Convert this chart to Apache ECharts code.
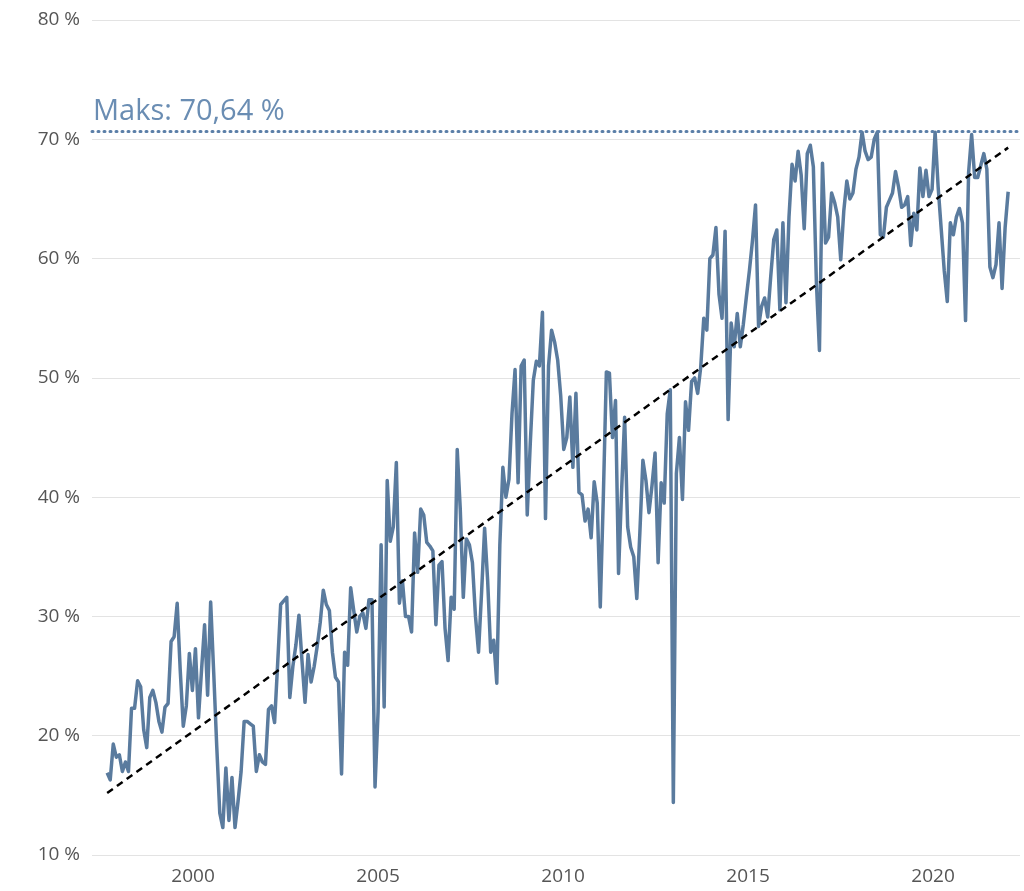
<!DOCTYPE html>
<html>
<head>
<meta charset="utf-8">
<script src="https://cdn.jsdelivr.net/npm/echarts@6/dist/echarts.min.js"></script>
<style>
  html, body { margin: 0; padding: 0; background: #fff; }
  #chart { width: 1024px; height: 891px; }
</style>
</head>
<body>
<div id="chart"></div>
<script>
// monthly share (%), first to last month
const share = [
  16.9,16.3,19.3,18.2,18.4,17.0,17.8,17.0,22.3,22.3,24.6,24.1,20.5,19.0,23.2,23.8,22.8,21.2,20.3,22.4,22.7,27.9,28.3,31.1,25.5,20.8,
  22.5,26.9,23.8,27.3,21.5,25.5,29.3,23.4,31.2,25.3,19.1,13.5,12.3,17.3,12.9,16.5,12.3,14.5,17.0,21.2,21.2,21.0,20.8,17.0,18.4,17.8,
  17.6,22.2,22.5,21.1,26.0,31.0,31.3,31.6,23.2,25.8,27.6,30.1,26.3,22.8,26.8,24.5,25.8,27.5,29.5,32.2,31.0,30.5,27.0,24.9,24.5,16.8,
  27.0,25.9,32.4,30.5,28.7,30.0,30.3,29.0,31.4,31.4,15.7,22.0,36.0,22.4,41.4,36.3,37.5,42.9,31.1,33.0,30.0,30.0,28.7,37.0,33.7,39.0,
  38.5,36.2,35.9,35.5,29.3,34.3,34.6,29.0,26.3,31.6,30.6,44.0,39.0,31.6,36.5,36.0,34.5,30.0,27.0,32.0,37.4,33.0,27.0,28.0,24.4,36.0,42.5,
  40.0,41.5,47.0,50.7,41.2,51.0,51.5,38.5,44.5,49.8,51.4,51.0,55.5,38.2,51.0,54.0,53.0,51.5,48.5,44.0,45.0,48.4,42.5,48.7,40.4,
  40.2,38.0,39.0,36.6,41.3,39.5,30.8,40.0,50.5,50.4,45.0,48.1,33.6,40.5,46.7,37.5,35.8,35.0,31.5,37.0,43.1,41.4,38.7,41.0,43.7,34.5,
  41.2,39.5,47.0,49.0,14.4,42.0,45.0,39.8,48.0,45.6,49.7,50.0,48.7,50.9,
  55.0,54.0,60.0,60.3,62.6,57.0,55.0,62.3,46.5,54.6,52.6,55.4,52.6,54.5,56.8,59.0,61.5,64.5,54.3,56.0,56.7,55.1,58.5,61.6,62.4,55.7,63.0,56.3,63.5,67.9,
  66.5,69.0,67.0,62.5,68.8,69.5,67.7,58.0,52.3,68.0,61.3,61.8,65.5,64.7,63.5,59.9,64.0,66.5,65.0,65.5,67.5,68.5,70.6,69.0,68.3,68.5,70.0,70.6,62.0,61.8,64.3,64.9,
  65.5,67.3,66.0,64.3,64.5,65.2,61.1,63.8,62.4,67.6,65.2,67.4,65.2,65.8,70.6,66.0,62.5,59.0,56.4,63.0,62.0,63.5,64.2,63.0,54.8,67.2,70.4,66.8,66.8,67.8,68.8,67.5,59.3,58.4,59.5,63.0,57.5,62.6,65.6
];
const firstYear = 1997.68;
const lastYear = 2022.03;
const maxValue = 70.64;
const trendStart = 15.2;
const trendEnd = 69.3;
const yearTicks = [2000, 2005, 2010, 2015, 2020];

const step = (lastYear - firstYear) / (share.length - 1);
const points = share.map((v, i) => [firstYear + i * step, v]);

const font = 'Open Sans';
const chart = echarts.init(document.getElementById('chart'));
chart.setOption({
  animation: false,
  grid: { left: 92, right: 4, top: 20, bottom: 36 },
  xAxis: {
    type: 'value',
    min: 1997.27,
    max: 2022.35,
    axisLine: { show: false },
    axisTick: { show: false },
    splitLine: { show: false },
    axisLabel: {
      customValues: yearTicks,
      formatter: v => String(Math.round(v)),
      color: '#555', fontSize: 19, fontFamily: font, margin: 12
    }
  },
  yAxis: {
    type: 'value',
    min: 10, max: 80, interval: 10,
    axisLine: { show: false },
    axisTick: { show: false },
    splitLine: { lineStyle: { color: '#e3e3e3', width: 1 } },
    axisLabel: { formatter: '{value} %', color: '#555', fontSize: 19, fontFamily: font, margin: 12 }
  },
  series: [
    {
      type: 'line',
      data: points,
      symbol: 'none',
      lineStyle: { color: '#5a7b9e', width: 3.5, join: 'round' },
      markLine: {
        silent: true,
        symbol: 'none',
        data: [{ yAxis: maxValue }],
        lineStyle: { color: '#5b7fa8', width: 3, type: [1, 5], cap: 'round' },
        label: {
          position: 'insideStartTop',
          formatter: 'Maks: 70,64 %',
          color: '#6a8db3', fontSize: 29, fontFamily: font,
          distance: [1, 5]
        }
      }
    },
    {
      type: 'line',
      z: 3,
      data: [[firstYear, trendStart], [lastYear, trendEnd]],
      symbol: 'none',
      lineStyle: { color: '#000', width: 2.5, type: [7, 5] }
    }
  ]
});
</script>
</body>
</html>
